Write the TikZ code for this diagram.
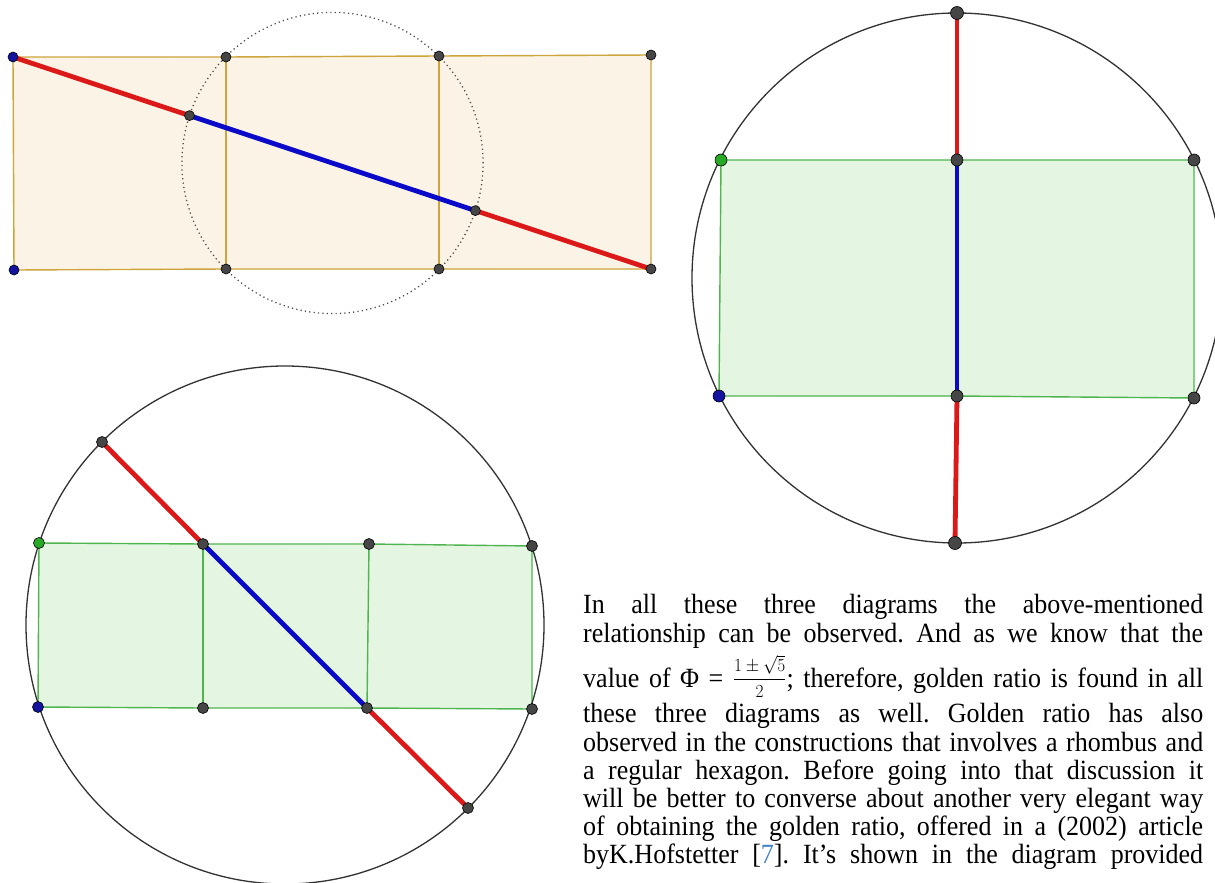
\documentclass[tikz,border=0pt]{standalone}
\usepackage{fontspec}
\setmainfont{Liberation Serif}
\frenchspacing
\definecolor{beigefill}{RGB}{251,243,229}
\definecolor{goldedge}{RGB}{205,165,60}
\definecolor{greenfill}{RGB}{228,246,226}
\definecolor{greenedge}{RGB}{80,180,80}
\definecolor{segred}{RGB}{220,25,25}
\definecolor{segblue}{RGB}{10,10,200}
\definecolor{dotgray}{RGB}{70,70,70}
\definecolor{dotblue}{RGB}{20,20,160}
\definecolor{dotgreen}{RGB}{40,170,40}
\definecolor{circgray}{RGB}{50,50,50}
\definecolor{refblue}{RGB}{70,130,200}
\newcommand{\tline}[1]{\scalebox{1}[1.07]{\makebox[620pt][s]{#1}}}
\tikzset{
  goldline/.style={draw=goldedge, line width=1.4pt},
  greenline/.style={draw=greenedge, line width=1.4pt},
  redseg/.style={draw=segred, line width=4.8pt},
  blueseg/.style={draw=segblue, line width=4.8pt},
  bigcirc/.style={draw=circgray, line width=1.3pt},
  dotcirc/.style={draw=black!70, line width=1.3pt, dash pattern=on 1.2pt off 3.2pt},
  pt/.style={circle, inner sep=0pt, minimum size=#1, draw=black, line width=0.6pt},
  gpt/.style={pt=#1, fill=dotgray},
  bpt/.style={pt=#1, fill=dotblue},
  gnpt/.style={pt=#1, fill=dotgreen},
  txt/.style={anchor=base west, inner sep=0pt, font=\fontsize{26}{28}\selectfont},
}
\begin{document}
\begin{tikzpicture}[x=1pt,y=-1pt]
\clip (0,0) rectangle (1215,883);
\fill[white] (0,0) rectangle (1215,883);

% ---------- top-left diagram ----------
\coordinate (A1) at (13,57);
\coordinate (A2) at (226,57);
\coordinate (A3) at (439,56);
\coordinate (A4) at (651,55);
\coordinate (B1) at (14,270);
\coordinate (B2) at (226,269);
\coordinate (B3) at (439,269);
\coordinate (B4) at (651,269);
\coordinate (P1) at (189.5,115.6);
\coordinate (P2) at (475.4,210.6);
\coordinate (O1) at (332.5,163);
\fill[beigefill] (A1) -- (A4) -- (B4) -- (B1) -- cycle;
\draw[goldline] (A1) -- (A2) -- (A3) -- (A4) -- (B4) -- (B3) -- (B2) -- (B1) -- cycle;
\draw[goldline] (A2) -- (B2);
\draw[goldline] (A3) -- (B3);
\draw[dotcirc] (O1) circle[radius=150.6pt];
\draw[redseg] (A1) -- (P1);
\draw[blueseg] (P1) -- (P2);
\draw[redseg] (P2) -- (B4);

% ---------- right diagram ----------
\coordinate (C1) at (721,160);
\coordinate (C2) at (957,160);
\coordinate (C3) at (1194,160);
\coordinate (D1) at (719,396);
\coordinate (D2) at (957,396);
\coordinate (D3) at (1194,398);
\coordinate (T1) at (957,13);
\coordinate (T2) at (955,543);
\coordinate (O2) at (957,278);
\fill[greenfill] (C1) -- (C3) -- (D3) -- (D1) -- cycle;
\draw[greenline] (C1) -- (C2) -- (C3) -- (D3) -- (D2) -- (D1) -- cycle;
\draw[bigcirc] (O2) circle[radius=265pt];
\draw[redseg] (T1) -- (C2);
\draw[blueseg] (C2) -- (D2);
\draw[redseg] (D2) -- (T2);

% ---------- bottom-left diagram ----------
\coordinate (E1) at (39,543);
\coordinate (E2) at (203,544);
\coordinate (E3) at (369,544);
\coordinate (E4) at (532,546);
\coordinate (F1) at (38,707);
\coordinate (F2) at (203,708);
\coordinate (F3) at (367,708);
\coordinate (F4) at (532,709);
\coordinate (G1) at (102,442);
\coordinate (G2) at (468,808);
\coordinate (O3) at (285,625);
\fill[greenfill] (E1) -- (E4) -- (F4) -- (F1) -- cycle;
\draw[greenline] (E1) -- (E2) -- (E3) -- (E4) -- (F4) -- (F3) -- (F2) -- (F1) -- cycle;
\draw[greenline] (E2) -- (F2);
\draw[greenline] (E3) -- (F3);
\draw[bigcirc] (O3) circle[radius=259pt];
\draw[redseg] (G1) -- (E2);
\draw[blueseg] (E2) -- (F3);
\draw[redseg] (F3) -- (G2);

% ---------- dots ----------
\node[bpt=10pt] (nA1) at (A1) {};
\node[gpt=10pt] (nA2) at (A2) {};
\node[gpt=10pt] (nA3) at (A3) {};
\node[gpt=10pt] (nA4) at (A4) {};
\node[bpt=10pt] (nB1) at (B1) {};
\node[gpt=10pt] (nB2) at (B2) {};
\node[gpt=10pt] (nB3) at (B3) {};
\node[gpt=10pt] (nB4) at (B4) {};
\node[gpt=10pt] (nP1) at (P1) {};
\node[gpt=10pt] (nP2) at (P2) {};

\node[gnpt=12pt] (nC1) at (C1) {};
\node[gpt=12pt] (nC2) at (C2) {};
\node[gpt=12pt] (nC3) at (C3) {};
\node[bpt=12pt] (nD1) at (D1) {};
\node[gpt=12pt] (nD2) at (D2) {};
\node[gpt=12pt] (nD3) at (D3) {};
\node[gpt=13pt] (nT1) at (T1) {};
\node[gpt=13pt] (nT2) at (T2) {};

\node[gnpt=11pt] (nE1) at (E1) {};
\node[gpt=11pt] (nE2) at (E2) {};
\node[gpt=11pt] (nE3) at (E3) {};
\node[gpt=11pt] (nE4) at (E4) {};
\node[bpt=11pt] (nF1) at (F1) {};
\node[gpt=11pt] (nF2) at (F2) {};
\node[gpt=11pt] (nF3) at (F3) {};
\node[gpt=11pt] (nF4) at (F4) {};
\node[gpt=11pt] (nG1) at (G1) {};
\node[gpt=11pt] (nG2) at (G2) {};

% ---------- text ----------
\node[txt] (t1) at (583,613) {\tline{In all these three diagrams the above-mentioned}};
\node[txt] (t2) at (583,642) {\tline{relationship can be observed. And as we know that the}};
\node[txt] (t3) at (583,687) {\tline{value of Φ = \raisebox{2.5pt}{\fontsize{17.5}{17.5}\selectfont$\displaystyle\frac{1\pm\sqrt{5}}{2}$}; therefore, golden ratio is found in all}};
\node[txt] (t4) at (583,722) {\tline{these three diagrams as well. Golden ratio has also}};
\node[txt] (t5) at (583,751) {\tline{observed in the constructions that involves a rhombus and}};
\node[txt] (t6) at (583,779) {\tline{a regular hexagon. Before going into that discussion it}};
\node[txt] (t7) at (583,807) {\tline{will be better to converse about another very elegant way}};
\node[txt] (t8) at (583,835) {\tline{of obtaining the golden ratio, offered in a (2002) article}};
\node[txt] (t9) at (583,863) {\tline{byK.Hofstetter [\textcolor{refblue}{7}]. It’s shown in the diagram provided}};
\end{tikzpicture}
\end{document}
